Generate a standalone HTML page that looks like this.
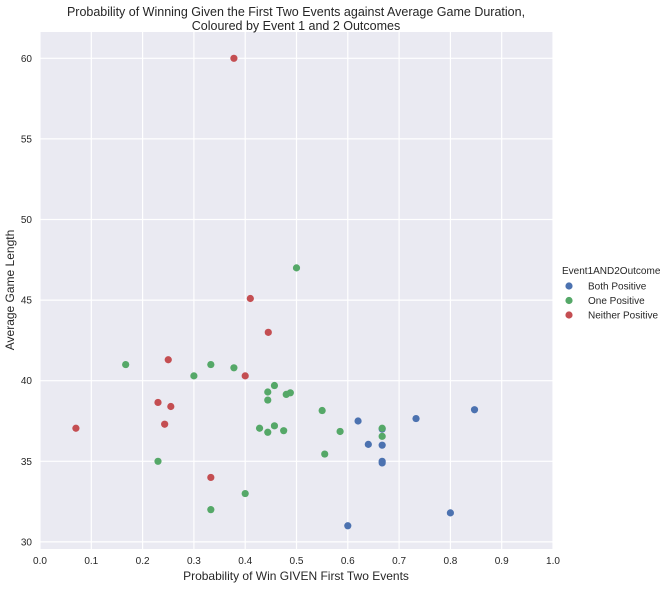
<!DOCTYPE html>
<html><head><meta charset="utf-8"><style>
body{margin:0;background:#fff;font-family:"Liberation Sans",sans-serif}
svg text{font-family:"Liberation Sans",sans-serif;fill:#262626}
</style></head><body>
<svg width="667" height="586">
<rect x="40" y="32" width="513" height="517" fill="#eaeaf2"/>
<g id="grid"></g>
<g id="ticks"></g>
<g id="pts"></g>
<text x="296" y="16" text-anchor="middle" font-size="12.5">Probability of Winning Given the First Two Events against Average Game Duration,</text>
<text x="296" y="30" text-anchor="middle" font-size="12.5">Coloured by Event 1 and 2 Outcomes</text>
<text x="296" y="580" text-anchor="middle" font-size="12">Probability of Win GIVEN First Two Events</text>
<text transform="translate(14,290) rotate(-90)" text-anchor="middle" font-size="12">Average Game Length</text>
<g>
<text x="562" y="274" font-size="10">Event1AND2Outcome</text>
<g id="leg"></g>
</g>
</svg>
<script>
const xTicks=[0,0.1,0.2,0.3,0.4,0.5,0.6,0.7,0.8,0.9,1.0];
const yTicks=[30,35,40,45,50,55,60];
const seriesNames=["Both Positive","One Positive","Neither Positive"];
const seriesColors=["#4c72b0","#55a868","#c44e52"];
const bothX=[0.62,0.64,0.667,0.667,0.667,0.667,0.733,0.847,0.6,0.8];
const bothY=[37.5,36.05,37,36,35,34.9,37.65,38.2,31,31.8];
const oneX=[0.5,0.167,0.333,0.3,0.378,0.444,0.444,0.457,0.48,0.488,0.55,0.428,0.444,0.457,0.475,0.585,0.667,0.667,0.555,0.23,0.4,0.333];
const oneY=[47,41,41,40.3,40.8,39.3,38.8,39.7,39.15,39.25,38.15,37.05,36.8,37.2,36.9,36.85,37.05,36.55,35.45,35,33,32];
const neitherX=[0.378,0.41,0.445,0.4,0.25,0.23,0.255,0.243,0.07,0.333];
const neitherY=[60,45.1,43,40.3,41.3,38.65,38.4,37.3,37.05,34];
const NS="http://www.w3.org/2000/svg";
const sx=v=>40+v*513;
const sy=v=>58.3+(60-v)*16.12;
function mk(t,a,p){const e=document.createElementNS(NS,t);for(const k in a)e.setAttribute(k,a[k]);p.appendChild(e);return e;}
const grid=document.getElementById('grid'),ticks=document.getElementById('ticks'),pts=document.getElementById('pts'),leg=document.getElementById('leg');
xTicks.forEach(v=>{
 const l=mk('line',{x1:sx(v),x2:sx(v),y1:32,y2:549,stroke:'#fff','stroke-width':1.2},grid);
 
 
 const t=mk('text',{x:sx(v),y:564,'text-anchor':'middle','font-size':10},ticks);t.textContent=v.toFixed(1);
 
 
});
yTicks.forEach(v=>{
 const l=mk('line',{x1:40,x2:553,y1:sy(v),y2:sy(v),stroke:'#fff','stroke-width':1.2},grid);
 
 
 const t=mk('text',{x:32,y:sy(v)+3.5,'text-anchor':'end','font-size':10},ticks);t.textContent=v;
 
 
});
[[bothX,bothY],[oneX,oneY],[neitherX,neitherY]].forEach((s,i)=>{
 s[0].forEach((x,j)=>{
  const c=mk('circle',{cx:sx(x),cy:sy(s[1][j]),r:3.6,fill:seriesColors[i]},pts);
  
  
 });
 const c=mk('circle',{cx:569,cy:286+i*14.5,r:3.6,fill:seriesColors[i]},leg);
 
 
 const t=mk('text',{x:588,y:289.5+i*14.5,'font-size':10},leg);t.textContent=seriesNames[i];
 
 
});
</script>
</body></html>
